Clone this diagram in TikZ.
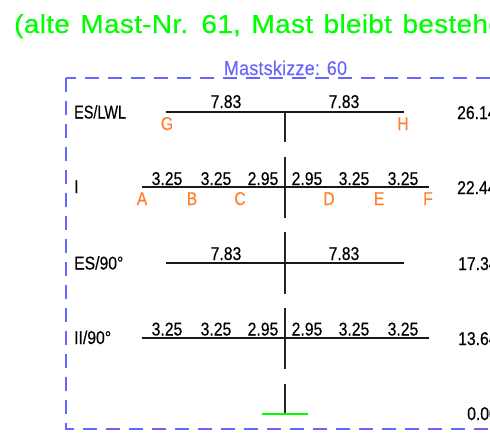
\documentclass[tikz,border=0pt]{standalone}
\usepackage{fontspec}
\setmainfont{Liberation Sans}
\newfontfamily\cadfont[FakeStretch=0.85,FakeBold=0.35]{Liberation Sans}
\newfontfamily\narrowfont[FakeStretch=0.78,FakeBold=0.35]{Liberation Sans}
\newfontfamily\titlefont[FakeStretch=1.08,LetterSpace=1,WordSpace=1.3,FakeBold=0.4]{Liberation Sans}
\newfontfamily\sketchfont[FakeStretch=0.9,LetterSpace=1,FakeBold=0.2]{Liberation Sans}
\definecolor{cadblue}{HTML}{6666FF}
\definecolor{cadorange}{HTML}{FF7F2A}
\definecolor{cadgreen}{HTML}{00FF00}
\tikzset{
  x=1pt,y=-1pt,
  txt/.style={font=\cadfont\fontsize{18.5}{18.5}\selectfont,inner sep=0pt,anchor=base,text=black},
  leftlab/.style={txt,anchor=base west},
  phase/.style={txt,text=cadorange},
  arm/.style={draw=black!90,line width=1.8pt},
  mast/.style={draw=black!85,line width=1.8pt},
  framedash/.style={cadblue,line width=1.3pt},
}
\begin{document}
\begin{tikzpicture}
\useasboundingbox (0,0) rectangle (490,437);
\clip (0,0) rectangle (490,437);
% title
\node[font=\titlefont\fontsize{26}{26}\selectfont,text=cadgreen,inner sep=0pt,anchor=base west] (title) at (14,33) {(alte Mast-Nr. 61, Mast bleibt bestehen)};
% frame
\coordinate (fa) at (520,78); \coordinate (fb) at (66,78);
\coordinate (fc) at (66,429); \coordinate (fd) at (520,429);
\draw[framedash,dash pattern=on 14pt off 9pt,dash phase=4pt] (fb) -- (fa);
\draw[framedash,dash pattern=on 14pt off 9pt] (fb) -- (fc) -- (fd);
\node[font=\sketchfont\fontsize{20}{20}\selectfont,text=cadblue,inner sep=0pt,anchor=base] (sk) at (285.5,75) {Mastskizze: 60};
% mast
\foreach \n/\a/\b in {m1/111/142,m2/157/218,m3/232/294,m4/308/369,m5/384/414}{
  \coordinate (\n t) at (285,\a); \coordinate (\n b) at (285,\b);
  \draw[mast] (\n t) -- (\n b);
}
% arms
\foreach \n/\l/\r/\y in {a1/166/404/112,a2/141.5/428.5/187,a3/166/404/263,a4/141.5/428.5/338}{
  \coordinate (\n l) at (\l,\y); \coordinate (\n r) at (\r,\y);
  \draw[arm] (\n l) -- (\n r);
}
\coordinate (gl) at (262,414); \coordinate (gr) at (308,414);
\draw[cadgreen,line width=1.8pt] (gl) -- (gr);
% spans
\node[txt] (s11) at (226,108) {7.83};
\node[txt] (s12) at (344,108) {7.83};
\node[txt] (s31) at (226,260) {7.83};
\node[txt] (s32) at (344,260) {7.83};
\foreach \y/\r in {185/b,335.5/d}{
  \node[txt] (\r1) at (167,\y) {3.25};
  \node[txt] (\r2) at (216,\y) {3.25};
  \node[txt] (\r3) at (263,\y) {2.95};
  \node[txt] (\r4) at (307,\y) {2.95};
  \node[txt] (\r5) at (354,\y) {3.25};
  \node[txt] (\r6) at (403,\y) {3.25};
}
% phases
\node[phase] (G) at (167,130) {G};
\node[phase] (H) at (403,130) {H};
\node[phase] (A) at (142,205) {A};
\node[phase] (B) at (192,205) {B};
\node[phase] (C) at (240,205) {C};
\node[phase] (D) at (329,205) {D};
\node[phase] (E) at (379,205) {E};
\node[phase] (F) at (428,205) {F};
% levels
\node[leftlab,font=\narrowfont\fontsize{18.5}{18.5}\selectfont] (l1) at (74,118.5) {ES/LWL};
\node[leftlab] (l2) at (74,193) {I};
\node[leftlab] (l3) at (74,269.5) {ES/90°};
\node[leftlab] (l4) at (74,344) {II/90°};
% heights
\node[leftlab] (h1) at (457,119) {26.14};
\node[leftlab] (h2) at (457,194) {22.44};
\node[leftlab] (h3) at (458,270) {17.34};
\node[leftlab] (h4) at (458,345) {13.64};
\node[leftlab] (h5) at (467,420) {0.00};
\end{tikzpicture}
\end{document}
